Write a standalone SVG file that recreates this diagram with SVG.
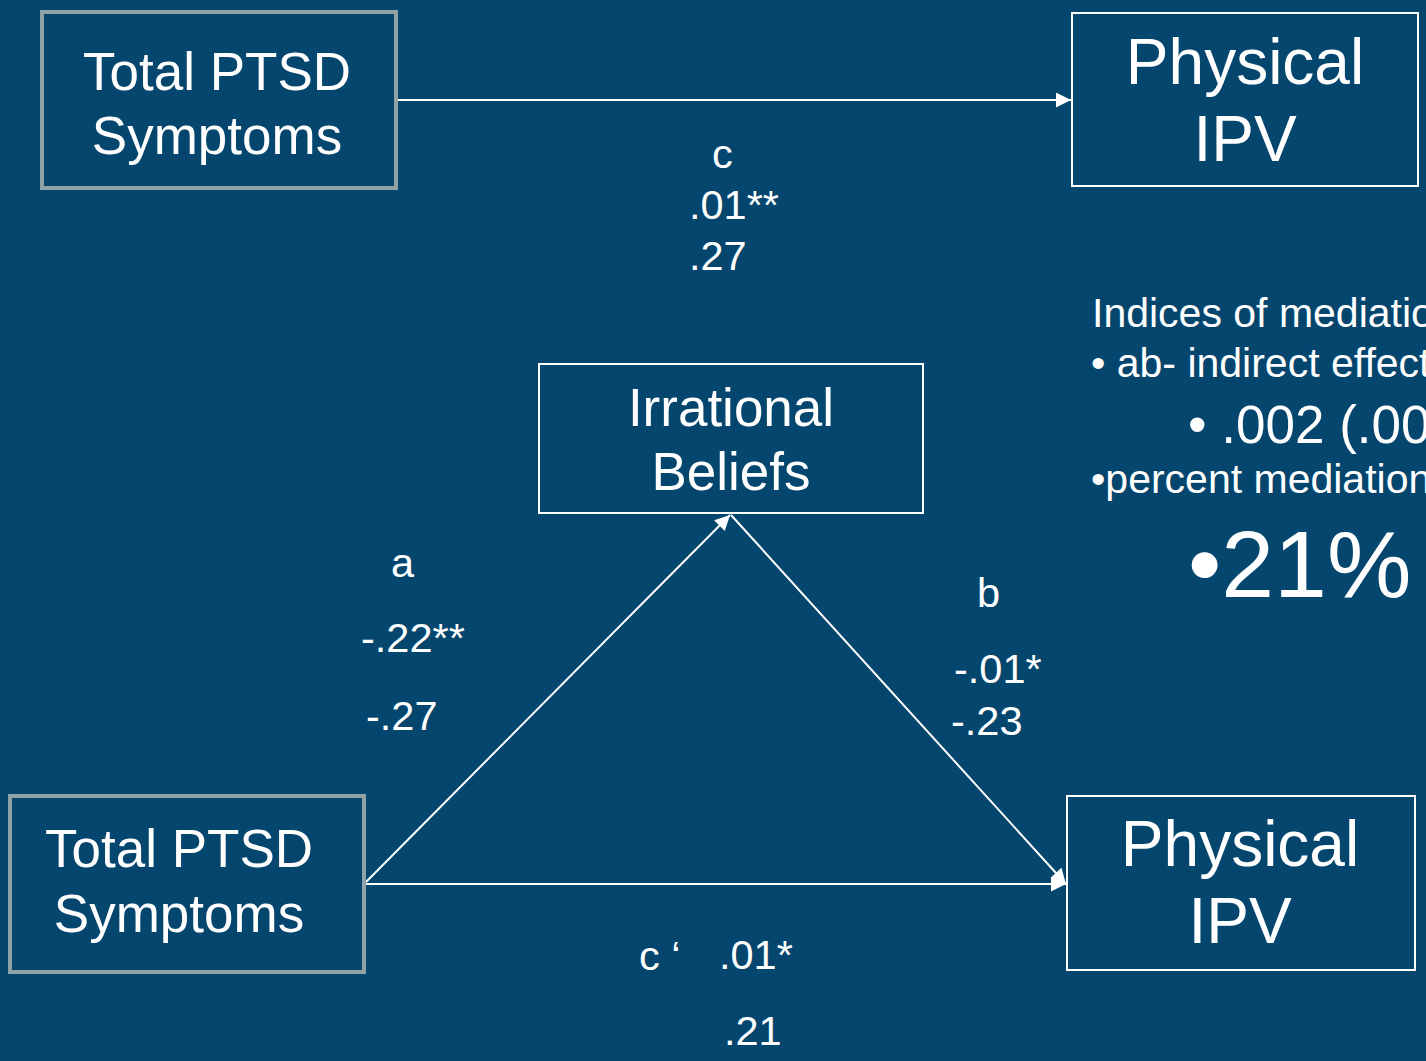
<svg xmlns="http://www.w3.org/2000/svg" width="1426" height="1061" viewBox="0 0 1426 1061">
<defs>
<style>
text{font-family:"Liberation Sans",Arial,sans-serif;fill:#ffffff}
.node{font-size:53px}
.big{font-size:64px}
.lbl{font-size:41.5px}
.side{font-size:41px}
.gbox{fill:none;stroke:#8fa3a7;stroke-width:4}
.wbox{fill:none;stroke:#ffffff;stroke-width:2}
.conn{stroke:#ffffff;stroke-width:2;fill:none;marker-end:url(#ah)}
</style>
<marker id="ah" viewBox="0 0 10 10" refX="10" refY="5" markerWidth="9" markerHeight="7.5" markerUnits="strokeWidth" orient="auto">
<path d="M0,0 L10,5 L0,10 z" fill="#ffffff"/>
</marker>
</defs>
<rect x="0" y="0" width="1426" height="1061" fill="#04466e"/>
<g id="connectors">
<line class="conn" x1="398" y1="100" x2="1071" y2="100"/>
<line class="conn" x1="366" y1="884" x2="1066" y2="884"/>
<line class="conn" x1="366" y1="882" x2="730" y2="515"/>
<line class="conn" x1="731" y1="515" x2="1066" y2="884"/>
</g>
<g id="ptsd-top">
<rect class="gbox" x="42" y="12" width="354" height="176"/>
<text class="node" x="217" y="90" text-anchor="middle">Total PTSD</text>
<text class="node" x="217" y="154" text-anchor="middle">Symptoms</text>
</g>
<g id="ipv-top">
<rect class="wbox" x="1072" y="13" width="346" height="173"/>
<text class="big" x="1245" y="84" text-anchor="middle">Physical</text>
<text class="big" x="1245" y="161" text-anchor="middle">IPV</text>
</g>
<g id="irrational">
<rect class="wbox" x="539" y="364" width="384" height="149"/>
<text class="node" x="731" y="426" text-anchor="middle">Irrational</text>
<text class="node" x="731" y="490" text-anchor="middle">Beliefs</text>
</g>
<g id="ptsd-bottom">
<rect class="gbox" x="10" y="796" width="354" height="176"/>
<text class="node" x="179" y="867" text-anchor="middle">Total PTSD</text>
<text class="node" x="179" y="932" text-anchor="middle">Symptoms</text>
</g>
<g id="ipv-bottom">
<rect class="wbox" x="1067" y="796" width="348" height="174"/>
<text class="big" x="1240" y="866" text-anchor="middle">Physical</text>
<text class="big" x="1240" y="943" text-anchor="middle">IPV</text>
</g>
<g id="labels">
<text class="lbl" x="712" y="168">c</text>
<text class="lbl" x="689" y="219">.01**</text>
<text class="lbl" x="689" y="270">.27</text>
<text class="lbl" x="391" y="577">a</text>
<text class="lbl" x="361" y="652">-.22**</text>
<text class="lbl" x="366" y="730">-.27</text>
<text class="lbl" x="977" y="607">b</text>
<text class="lbl" x="954" y="683">-.01*</text>
<text class="lbl" x="951" y="735">-.23</text>
<text class="lbl" x="639" y="970">c ‘</text>
<text class="lbl" x="719" y="969">.01*</text>
<text class="lbl" x="724" y="1045">.21</text>
</g>
<g id="indices">
<text class="side" x="1092" y="327">Indices of mediation</text>
<text class="side" x="1091" y="377">• ab- indirect effect</text>
<text x="1188" y="443" style="font-size:53px">• .002 (.00</text>
<text class="side" x="1091" y="493">•percent mediation</text>
<text x="1188" y="597" style="font-size:95px">•21%</text>
</g>
</svg>
